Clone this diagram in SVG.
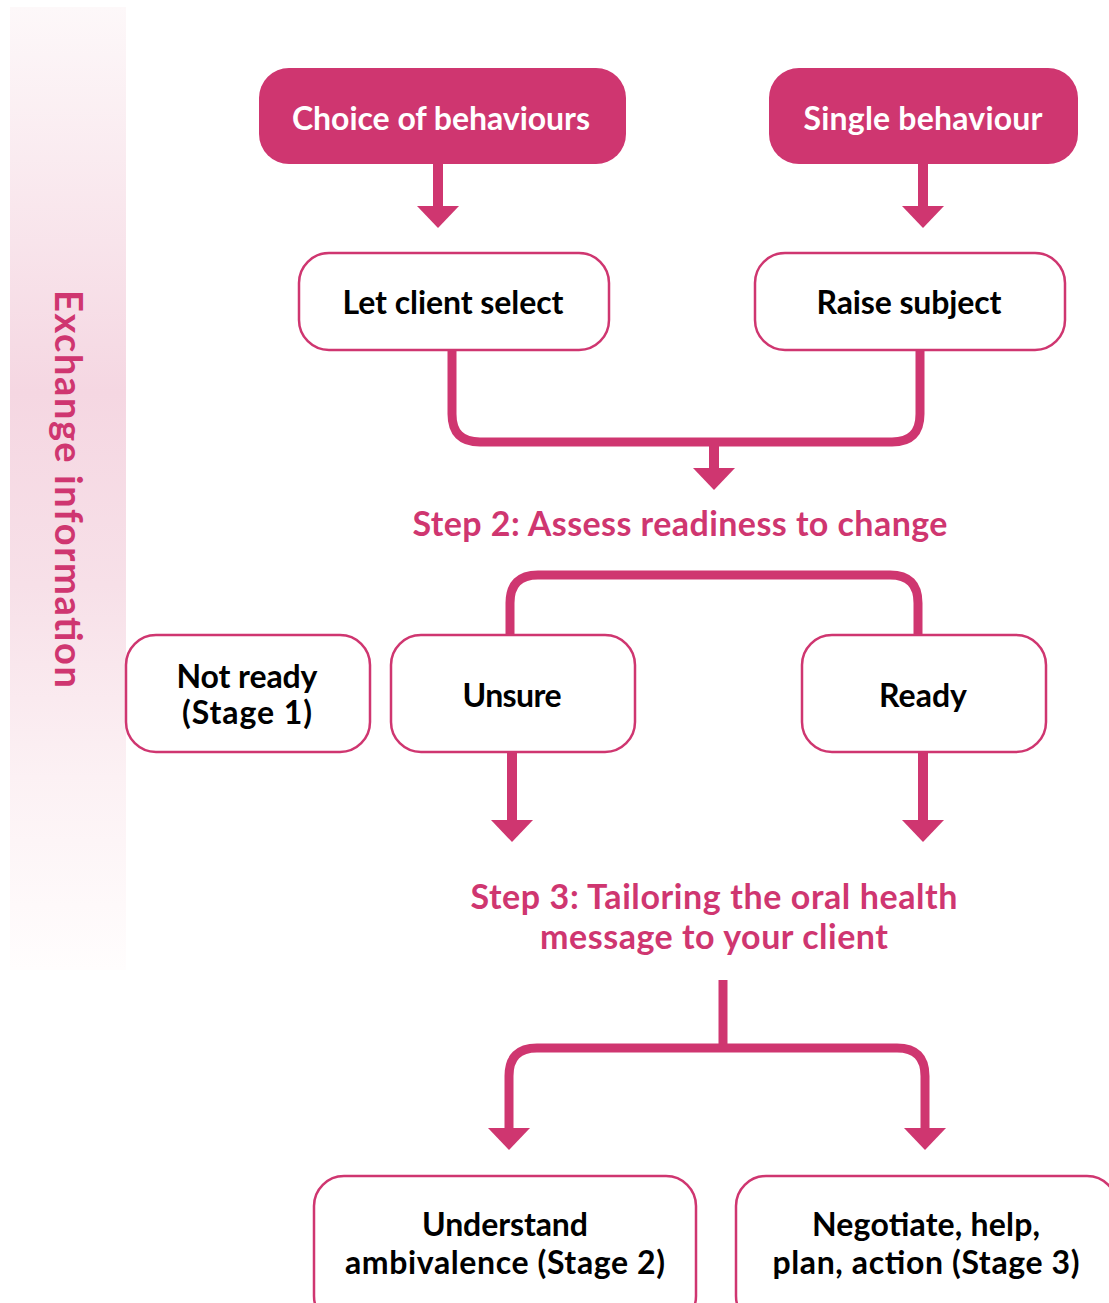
<svg xmlns="http://www.w3.org/2000/svg" width="1109" height="1303" viewBox="0 0 1109 1303">
<style>
.fill{fill:#cf3670;}
.box{fill:#fff;stroke:#cf3670;stroke-width:2.5;}
.t{font-family:Lato,"Open Sans","Liberation Sans",sans-serif;font-weight:bold;text-anchor:middle;}
.w{fill:#fff;font-size:32px;}
.k{fill:#000;font-size:32px;}
.p{fill:#cf3670;font-size:34px;}
.c{fill:none;stroke:#cf3670;stroke-width:9;}
.a{fill:none;stroke:#cf3670;stroke-width:10;marker-end:url(#ah);}
</style>
<defs>
<linearGradient id="band" x1="0" y1="0" x2="0" y2="1">
<stop offset="0" stop-color="#fdf8f9"/>
<stop offset="0.4" stop-color="#f5d7e2"/>
<stop offset="0.6" stop-color="#f7e0e8"/>
<stop offset="0.8" stop-color="#fcf1f4"/>
<stop offset="1" stop-color="#fffdfd"/>
</linearGradient>
<marker id="ah" markerUnits="userSpaceOnUse" markerWidth="24" markerHeight="42" refX="0" refY="21" orient="auto" viewBox="0 0 24 42" overflow="visible">
<path d="M0,0 L22,21 L0,42 z" fill="#cf3670"/>
</marker>
</defs>
<rect x="10" y="7" width="116" height="963" fill="url(#band)"/>
<g id="sidebar">
<text class="t p" style="font-size:38px" transform="translate(55,489) rotate(90)" x="0" y="0" textLength="398">Exchange information</text>
</g>
<g id="connectors">
<path class="a" d="M438,164 V206"/>
<path class="a" d="M923,164 V206"/>
<path class="c" d="M452,350 V414 Q452,442 480,442 H892 Q920,442 920,414 V350"/>
<path class="a" d="M714,440 V468"/>
<path class="c" d="M510,636 V603 Q510,575 538,575 H890 Q918,575 918,603 V636"/>
<path class="a" d="M512,753 V820"/>
<path class="a" d="M923,753 V820"/>
<path class="c" d="M723,980 V1052"/>
<path class="c" style="marker-end:url(#ah)" d="M723,1048 H537 Q509,1048 509,1076 V1128"/>
<path class="c" style="marker-end:url(#ah)" d="M723,1048 H897 Q925,1048 925,1076 V1128"/>
</g>
<g id="choice">
<rect class="fill" x="259" y="68" width="367" height="96" rx="30"/>
<text class="t w" x="441" y="130" textLength="298">Choice of behaviours</text>
</g>
<g id="single">
<rect class="fill" x="769" y="68" width="309" height="96" rx="30"/>
<text class="t w" x="923" y="130" textLength="239">Single behaviour</text>
</g>
<g id="letclient">
<rect class="box" x="299" y="253" width="310" height="97" rx="30"/>
<text class="t k" x="453" y="314" textLength="221">Let client select</text>
</g>
<g id="raise">
<rect class="box" x="755" y="253" width="310" height="97" rx="30"/>
<text class="t k" x="909" y="314" textLength="185">Raise subject</text>
</g>
<g id="step2">
<text class="t p" x="680" y="536" textLength="535">Step 2: Assess readiness to change</text>
</g>
<g id="notready">
<rect class="box" x="126" y="635" width="244" height="117" rx="30"/>
<text class="t k" x="247" y="688" textLength="141">Not ready</text>
<text class="t k" x="247" y="724" textLength="130">(Stage 1)</text>
</g>
<g id="unsure">
<rect class="box" x="391" y="635" width="244" height="117" rx="30"/>
<text class="t k" x="512" y="707" textLength="99">Unsure</text>
</g>
<g id="ready">
<rect class="box" x="802" y="635" width="244" height="117" rx="30"/>
<text class="t k" x="923" y="707" textLength="88">Ready</text>
</g>
<g id="step3">
<text class="t p" x="714" y="909" textLength="487">Step 3: Tailoring the oral health</text>
<text class="t p" x="714" y="949" textLength="348">message to your client</text>
</g>
<g id="understand">
<rect class="box" x="314" y="1176" width="382" height="150" rx="30"/>
<text class="t k" x="505" y="1236" textLength="166">Understand</text>
<text class="t k" x="505" y="1274" textLength="320">ambivalence (Stage 2)</text>
</g>
<g id="negotiate">
<rect class="box" x="736" y="1176" width="381" height="150" rx="30"/>
<text class="t k" x="926" y="1236" textLength="228">Negotiate, help,</text>
<text class="t k" x="926" y="1274" textLength="307">plan, action (Stage 3)</text>
</g>
</svg>
